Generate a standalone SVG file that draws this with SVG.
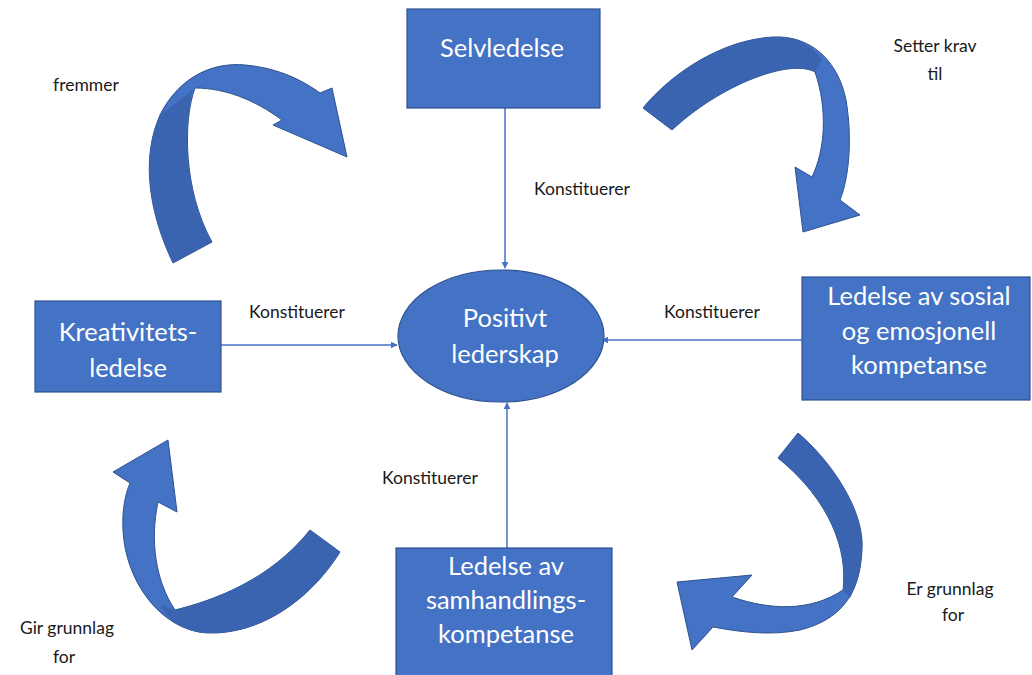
<svg xmlns="http://www.w3.org/2000/svg" width="1032" height="675" viewBox="0 0 1032 675">
  <style>
    .box { fill: #4472C4; stroke: #2F528F; stroke-width: 1.2; }
    .boxtext { font-family: Lato, "Open Sans", sans-serif; font-size: 25.5px; fill: #FFFFFF; text-anchor: middle; }
    .label { font-family: Lato, "Open Sans", sans-serif; font-size: 17.5px; fill: #1A1A1A; text-anchor: middle; }
    .conn { stroke: #4472C4; stroke-width: 1.5; fill: none; marker-end: url(#head); }
    .curl { fill: #4472C4; stroke: #2F528F; stroke-width: 1; stroke-linejoin: round; }
    .shade { fill: #3A64B0; stroke: none; }
  </style>
  <defs>
    <marker id="head" viewBox="0 0 10 10" refX="9" refY="5" markerWidth="7" markerHeight="7" orient="auto" markerUnits="userSpaceOnUse">
      <path d="M0,0 L10,5 L0,10 Z" fill="#4472C4"/>
    </marker>
  </defs>
  <rect width="1032" height="675" fill="#FFFFFF"/>

  <!-- curved block arrows between the outer nodes -->
  <g id="curl-fremmer">
    <path class="curl" d="M173,263 C150,215 140,160 160,115 C180,75 215,62 245,65 C280,68 305,82 320,93 L332,88 L347,157 L273,125 L282,120 C255,100 225,88 195,88 C183,120 183,190 212,242 Z"/>
    <path class="shade" d="M173,263 C150,215 140,160 160,115 L193,90 C183,120 183,190 212,242 Z"/>
  </g>
  <g id="curl-setter">
    <path class="curl" d="M643,108 C670,75 720,40 773,37 C810,35 838,60 846,100 C852,135 850,175 840,200 L860,215 L803,232 L795,167 L812,177 C825,150 828,110 815,72 C790,58 720,85 672,130 Z"/>
    <path class="shade" d="M643,108 C670,75 720,40 773,37 C795,36 812,45 822,60 L815,72 C790,58 720,85 672,130 Z"/>
  </g>
  <g id="curl-er-grunnlag">
    <path class="curl" d="M798,433 C830,460 865,510 862,550 C860,595 840,620 800,630 C770,636 740,632 713,627 L692,650 L677,582 L752,575 L732,597 C770,610 810,612 843,590 C848,550 830,500 778,458 Z"/>
    <path class="shade" d="M798,433 C830,460 865,510 862,550 C861,570 857,585 850,598 L843,590 C848,550 830,500 778,458 Z"/>
  </g>
  <g id="curl-gir-grunnlag">
    <path class="curl" d="M168,440 L177,512 L158,502 C150,540 155,580 175,610 C215,600 270,580 310,530 L340,552 C310,600 260,635 207,633 C160,630 125,580 123,530 C122,510 125,495 130,483 L113,472 Z"/>
    <path class="shade" d="M175,610 C215,600 270,580 310,530 L340,552 C310,600 260,635 207,633 C185,632 170,622 160,605 Z"/>
  </g>

  <!-- straight connectors into the centre -->
  <g id="connectors">
    <line class="conn" x1="505" y1="108" x2="505" y2="268"/>
    <line class="conn" x1="221" y1="345" x2="397" y2="345"/>
    <line class="conn" x1="802" y1="340" x2="602" y2="340"/>
    <line class="conn" x1="507" y1="548" x2="507" y2="403"/>
  </g>

  <!-- nodes -->
  <g id="selvledelse">
    <rect class="box" x="407" y="9" width="193" height="99"/>
    <text class="boxtext" x="502" y="57">Selvledelse</text>
  </g>
  <g id="positivt-lederskap">
    <ellipse class="box" cx="501" cy="336" rx="103" ry="66"/>
    <text class="boxtext" x="505" y="327">Positivt</text>
    <text class="boxtext" x="505" y="363">lederskap</text>
  </g>
  <g id="kreativitetsledelse">
    <rect class="box" x="35" y="301" width="186" height="91"/>
    <text class="boxtext" x="128" y="341">Kreativitets-</text>
    <text class="boxtext" x="128" y="377">ledelse</text>
  </g>
  <g id="sosial-emosjonell">
    <rect class="box" x="802" y="277" width="228" height="123"/>
    <text class="boxtext" x="919" y="305">Ledelse av sosial</text>
    <text class="boxtext" x="919" y="340">og emosjonell</text>
    <text class="boxtext" x="919" y="374">kompetanse</text>
  </g>
  <g id="samhandlingskompetanse">
    <rect class="box" x="396" y="548" width="216" height="132"/>
    <text class="boxtext" x="506" y="575">Ledelse av</text>
    <text class="boxtext" x="506" y="609">samhandlings-</text>
    <text class="boxtext" x="506" y="643">kompetanse</text>
  </g>

  <!-- labels -->
  <g id="labels">
    <text class="label" x="582" y="195">Konstituerer</text>
    <text class="label" x="297" y="318">Konstituerer</text>
    <text class="label" x="712" y="318">Konstituerer</text>
    <text class="label" x="430" y="484">Konstituerer</text>
    <text class="label" x="86" y="91">fremmer</text>
    <text class="label" x="935" y="52">Setter krav</text>
    <text class="label" x="935" y="80">til</text>
    <text class="label" x="67" y="634">Gir grunnlag</text>
    <text class="label" x="64" y="663">for</text>
    <text class="label" x="950" y="595">Er grunnlag</text>
    <text class="label" x="953" y="621">for</text>
  </g>
</svg>
